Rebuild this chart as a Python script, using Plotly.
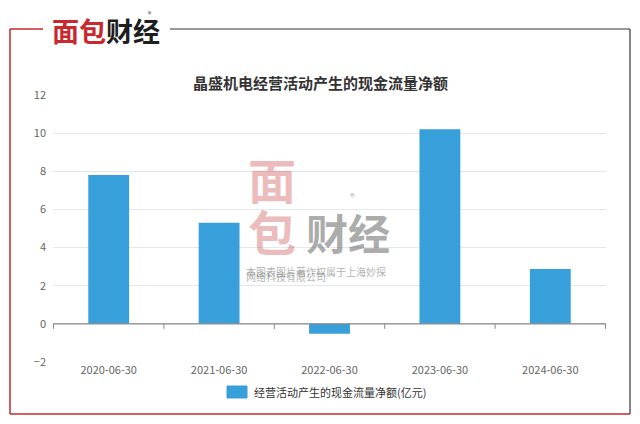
import plotly.graph_objects as go

# data
dates = ["2020-06-30", "2021-06-30", "2022-06-30", "2023-06-30", "2024-06-30"]
cash_flow = [7.8, 5.3, -0.52, 10.2, 2.87]
series_name = "经营活动产生的现金流量净额(亿元)"
title = "晶盛机电经营活动产生的现金流量净额"

FONT = "Noto Sans CJK SC"
BAR = "#379fd9"

# page body has an 8px margin, so lay out in screen pixels and shift back
OFF = 8
L, R, T, B = 53 - OFF, 606 - OFF, 95 - OFF, 362 - OFF


def px(x):
    return (x - OFF - L) / (R - L)


def py(y):
    return (B - (y - OFF)) / (B - T)


fig = go.Figure()
fig.add_trace(go.Bar(
    x=dates, y=cash_flow, name=series_name,
    marker=dict(color=BAR, line=dict(width=0)),
    width=0.37, showlegend=False,
))

shapes = []
# zero axis line with boundary ticks
shapes.append(dict(type="line", xref="paper", yref="y", x0=0, x1=1, y0=0, y1=0,
                   line=dict(color="#8a8a8a", width=1.2)))
for i in range(len(dates) + 1):
    shapes.append(dict(type="line", xref="x", yref="y", ysizemode="pixel", yanchor=0,
                       x0=i - 0.5, x1=i - 0.5, y0=0, y1=-5,
                       line=dict(color="#8a8a8a", width=1)))

# frame
red = "#c8282e"
dark = "#333333"
shapes += [
    dict(type="line", xref="paper", yref="paper", x0=px(10), x1=px(10), y0=py(29), y1=py(414),
         line=dict(color=red, width=1.5)),
    dict(type="line", xref="paper", yref="paper", x0=px(10), x1=px(630), y0=py(414), y1=py(414),
         line=dict(color=red, width=1.5)),
    dict(type="line", xref="paper", yref="paper", x0=px(10), x1=px(43), y0=py(29), y1=py(29),
         line=dict(color=red, width=1.5)),
    dict(type="line", xref="paper", yref="paper", x0=px(170), x1=px(630), y0=py(29), y1=py(29),
         line=dict(color=dark, width=1.2)),
    dict(type="line", xref="paper", yref="paper", x0=px(630), x1=px(630), y0=py(29), y1=py(414),
         line=dict(color=dark, width=1.2)),
]

# legend key (blue box)
shapes.append(dict(type="path", xref="paper", yref="paper",
                   path="M {a},{t} L {b},{t} L {b},{bt} L {a},{bt} Z".format(
                       a=px(227), b=px(247), t=py(386), bt=py(398)),
                   fillcolor=BAR, line=dict(color=BAR, width=1)))

annotations = [
    # logo
    dict(xref="paper", yref="paper", x=px(106), y=py(30), xanchor="center", yanchor="middle",
         text="<b><span style='color:#c8282e'>面包</span><span style='color:#1e1e1e'>财经</span></b>",
         showarrow=False, font=dict(family=FONT, size=27)),
    dict(xref="paper", yref="paper", x=px(146), y=py(7), text="®", showarrow=False,
         font=dict(family=FONT, size=7, color="#333")),
    # title
    dict(xref="paper", yref="paper", x=px(320), y=py(70), text="<b>" + title + "</b>",
         showarrow=False, font=dict(family=FONT, size=15, color="#333")),
    # legend label
    dict(xref="paper", yref="paper", x=px(252), y=py(392), xanchor="left", yanchor="middle",
         text=series_name, showarrow=False, font=dict(family=FONT, size=11, color="#333")),
    # watermark
    dict(xref="paper", yref="paper", x=px(272), y=py(178), yanchor="middle", text="<b>面</b>",
         showarrow=False, font=dict(family=FONT, size=48, color="rgba(200,60,60,0.35)")),
    dict(xref="paper", yref="paper", x=px(272), y=py(230), yanchor="middle", text="<b>包</b>",
         showarrow=False, font=dict(family=FONT, size=48, color="rgba(200,60,60,0.35)")),
    dict(xref="paper", yref="paper", x=px(348), y=py(232), yanchor="middle", text="<b>财经</b>",
         showarrow=False, font=dict(family=FONT, size=42, color="rgba(90,90,90,0.5)")),
    dict(xref="paper", yref="paper", x=px(352), y=py(196), text="®", showarrow=False,
         font=dict(family=FONT, size=10, color="rgba(90,90,90,0.5)")),
    dict(xref="paper", yref="paper", x=px(244), y=py(271), xanchor="left", showarrow=False,
         text="本图表图片著作权属于上海妙探", font=dict(family=FONT, size=10, color="rgba(110,110,110,0.55)")),
    dict(xref="paper", yref="paper", x=px(244), y=py(286), xanchor="left", showarrow=False,
         text="网络科技有限公司", font=dict(family=FONT, size=10, color="rgba(110,110,110,0.55)")),
]

fig.update_layout(
    width=640, height=424,
    margin=dict(l=L, r=640 - R, t=T, b=424 - B, autoexpand=False),
    paper_bgcolor="white", plot_bgcolor="white",
    font=dict(family=FONT, size=11, color="#666"),
    showlegend=False,
    xaxis=dict(type="category", showgrid=False, showline=False, ticks="",
               tickfont=dict(size=11, color="#666")),
    yaxis=dict(range=[-2, 12], dtick=2, showgrid=True, gridcolor="#e6e6ee", gridwidth=1,
               zeroline=False, showline=False, ticks="", ticklabelstandoff=6,
               tickfont=dict(size=11, color="#666")),
    shapes=shapes,
    annotations=annotations,
    bargap=0.63,
)

fig.write_html("out.html")
